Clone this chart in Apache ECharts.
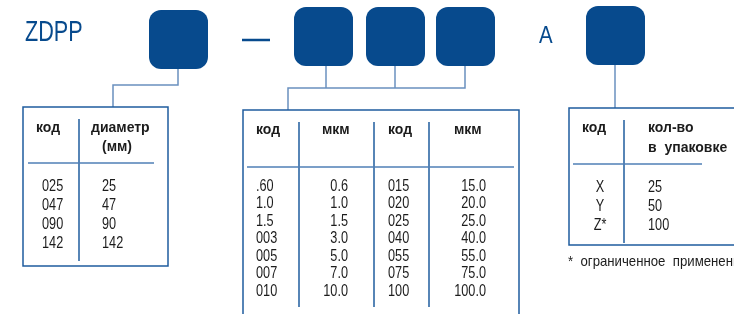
<!DOCTYPE html>
<html>
<head>
<meta charset="utf-8">
<script src="https://cdn.jsdelivr.net/npm/echarts@6/dist/echarts.min.js"></script>
<style>
  html, body { margin: 0; padding: 0; background: #fff; }
  #chart { width: 734px; height: 314px; }
</style>
</head>
<body>
<div id="chart"></div>
<script>
// table contents
const diamCodes = ['025', '047', '090', '142'];
const diamValues = ['25', '47', '90', '142'];
const poreCodesA = ['.60', '1.0', '1.5', '003', '005', '007', '010'];
const poreValuesA = ['0.6', '1.0', '1.5', '3.0', '5.0', '7.0', '10.0'];
const poreCodesB = ['015', '020', '025', '040', '055', '075', '100'];
const poreValuesB = ['15.0', '20.0', '25.0', '40.0', '55.0', '75.0', '100.0'];
const packCodes = ['X', 'Y', 'Z*'];
const packValues = ['25', '50', '100'];

const BLUE = '#074a8d';
const BORDER = '#1f5c9e';
const LINK = '#6a90bf';
const RULE = '#4f7fb6';
const INK = '#1c1c1c';
const SANS = 'Liberation Sans, Arial, sans-serif';

const g = [];

function box(x, y) {
    g.push({ type: 'rect', shape: { x: x, y: y, width: 59, height: 59, r: 12 }, style: { fill: BLUE } });
}
function poly(points, color, w) {
    g.push({ type: 'polyline', shape: { points: points }, style: { stroke: color || LINK, lineWidth: w || 1.5, fill: null } });
}
function txt(s, x, y, opt) {
    opt = opt || {};
    g.push({
        type: 'text', x: x, y: y, scaleX: opt.sx || 1,
        style: {
            text: s, x: 0, y: 0,
            fill: opt.color || INK,
            font: (opt.bold ? 'bold ' : '') + (opt.size || 16) + 'px ' + SANS,
            align: opt.align || 'left', verticalAlign: 'middle'
        }
    });
}
function head(s, x, y, align) { txt(s, x, y, { bold: true, size: 14, align: align }); }
function cell(s, x, y, align) { txt(s, x, y, { size: 16.5, sx: 0.77, align: align }); }

// title and code boxes
txt('ZDPP', 25, 33, { size: 30, sx: 0.72, color: BLUE });
txt('A', 539, 36, { size: 24, sx: 0.85, color: BLUE });
box(149, 10);
box(294, 7); box(366, 7); box(436, 7);
box(586, 6);
poly([[242, 40], [270, 40]], BLUE, 2.5);

// connectors
poly([[178, 69], [178, 85], [113, 85], [113, 107]]);
poly([[326, 66], [326, 88]]);
poly([[395, 66], [395, 88]]);
poly([[465, 66], [465, 88], [288, 88], [288, 110]]);
poly([[615, 65], [615, 108]]);

// table 1: diameter
g.push({ type: 'rect', shape: { x: 23, y: 107, width: 145, height: 159 }, style: { stroke: BORDER, lineWidth: 1.5, fill: null } });
poly([[79, 119], [79, 261]], BORDER);
poly([[28, 163], [154, 163]], RULE);
head('код', 36, 128);
head('диаметр', 91, 128);
head('(мм)', 117, 147, 'center');
diamCodes.forEach((c, i) => {
    const y = 186 + i * 19.3;
    cell(c, 42, y);
    cell(diamValues[i], 102, y);
});

// table 2: pore size
g.push({ type: 'rect', shape: { x: 243, y: 110, width: 276, height: 240 }, style: { stroke: BORDER, lineWidth: 1.5, fill: null } });
[299, 374, 429].forEach(x => poly([[x, 122], [x, 307]], BORDER));
poly([[247, 167], [514, 167]], RULE);
head('код', 256, 130);
head('мкм', 322, 130);
head('код', 388, 130);
head('мкм', 454, 130);
poreCodesA.forEach((c, i) => {
    const y = 186 + i * 17.5;
    cell(c, 256, y);
    cell(poreValuesA[i], 348, y, 'right');
    cell(poreCodesB[i], 388, y);
    cell(poreValuesB[i], 486, y, 'right');
});

// table 3: pack size
g.push({ type: 'rect', shape: { x: 569, y: 108, width: 220, height: 137 }, style: { stroke: BORDER, lineWidth: 1.5, fill: null } });
poly([[624, 120], [624, 243]], BORDER);
poly([[573, 164], [702, 164]], RULE);
head('код', 582, 128);
head('кол-во', 648, 128);
head('в  упаковке', 648, 148);
packCodes.forEach((c, i) => {
    const y = 187 + i * 19;
    cell(c, 600, y, 'center');
    cell(packValues[i], 648, y);
});
txt('*  ограниченное  применение', 568, 262, { size: 15, sx: 0.88 });

const chart = echarts.init(document.getElementById('chart'));
chart.setOption({
    animation: false,
    backgroundColor: '#fff',
    graphic: { elements: g }
});
</script>
</body>
</html>
